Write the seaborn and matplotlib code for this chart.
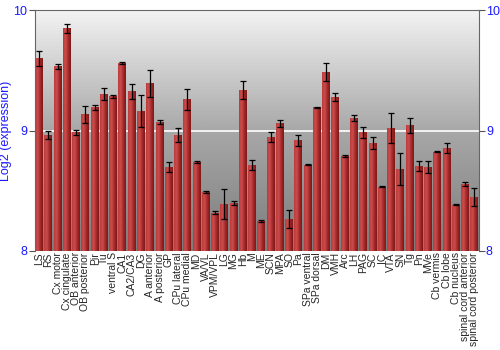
import numpy as np
import pandas as pd
import matplotlib
matplotlib.use("Agg")
import matplotlib.pyplot as plt
import seaborn as sns
from matplotlib.colors import LinearSegmentedColormap

regions = ["LS", "RS", "Cx motor", "Cx cingulate", "OB anterior", "OB posterior", "Pir", "Tu",
           "ventral S", "CA1", "CA2/CA3", "DG", "A anterior", "A posterior", "GP", "CPu lateral",
           "CPu medial", "MD", "VA/VL", "VPM/VPL", "LG", "MG", "Hb", "M", "ME", "SCN", "MPA", "SO",
           "Pa", "SPa ventral", "SPa dorsal", "DM", "VMH", "Arc", "LH", "PAG", "SC", "IC", "VTA",
           "SN", "Tg", "Pn", "MVe", "Cb vermis", "Cb lobe", "Cb nucleus", "spinal cord anterior",
           "spinal cord posterior"]
expression = [9.60, 8.963, 9.533, 9.848, 8.985, 9.134, 9.192, 9.303,
              9.284, 9.56, 9.328, 9.165, 9.394, 9.071, 8.697, 8.965,
              9.261, 8.739, 8.49, 8.318, 8.39, 8.396, 9.336, 8.714, 8.249, 8.949, 9.06, 8.268,
              8.921, 8.716, 9.192, 9.485, 9.278, 8.788, 9.104, 8.985, 8.894, 8.534, 9.018,
              8.68, 9.043, 8.705, 8.697, 8.822, 8.855, 8.384, 8.553,
              8.451]
error = [0.064, 0.036, 0.02, 0.035, 0.018, 0.073, 0.02, 0.05,
         0.011, 0.006, 0.062, 0.133, 0.112, 0.017, 0.043, 0.058,
         0.087, 0.005, 0.011, 0.012, 0.127, 0.017, 0.072, 0.044, 0.008, 0.041, 0.029, 0.075,
         0.046, 0.005, 0.007, 0.077, 0.03, 0.011, 0.028, 0.047, 0.051, 0.007, 0.124,
         0.133, 0.065, 0.043, 0.051, 0.004, 0.039, 0.004, 0.017,
         0.075]
y_ticks = [8, 9, 10]

df = pd.DataFrame({"region": regions, "expression": expression, "error": error})

sns.set_style("white")
plt.rcParams['font.family'] = ['Liberation Sans', 'DejaVu Sans']

fig = plt.figure(figsize=(5, 3.5), dpi=100)
ax = fig.add_axes([0.069, 0.283, 0.889, 0.688])

# bars from baseline 8
sns.barplot(x=df["region"], y=df["expression"] - 8, color="#a82828", width=0.86,
            errorbar=None, ax=ax, zorder=2, bottom=8, edgecolor="none")

xlim = (-0.5, len(regions) - 0.5)
ax.set_xlim(*xlim)
ax.set_ylim(8, 10)

# background gradient: dark at bottom, light at top
grad = np.linspace(0, 1, 256).reshape(-1, 1)
bg_cmap = LinearSegmentedColormap.from_list("bg", ["#7c7c7c", "#a8a8a8", "#f3f3f3"])
ax.imshow(grad, cmap=bg_cmap, aspect="auto", extent=[xlim[0], xlim[1], 8, 10],
          origin="lower", zorder=0, interpolation="bicubic")

# glossy bar gradient
bar_cmap = LinearSegmentedColormap.from_list("bar", ["#bc3c3c", "#cc4c4c", "#a42a2a", "#7c1818"])
hgrad = np.linspace(0, 1, 64).reshape(1, -1)
for patch in list(ax.patches):
    x0, y0 = patch.get_x(), patch.get_y()
    w, h = patch.get_width(), patch.get_height()
    im = ax.imshow(hgrad, cmap=bar_cmap, aspect="auto",
                   extent=[x0, x0 + w, y0, y0 + h], zorder=2.5, interpolation="bilinear")
    im.set_clip_path(patch)

ax.axhline(9, color="white", lw=1.2, zorder=1.5)

ax.errorbar(np.arange(len(regions)), df["expression"], yerr=df["error"], fmt="none",
            ecolor="black", elinewidth=0.9, capsize=2, capthick=0.9, zorder=4)

ax.set_xlim(*xlim)
ax.set_ylim(8, 10)
ax.set_yticks(y_ticks)
ax.set_yticklabels([str(t) for t in y_ticks])
ax.tick_params(axis="y", labelcolor="#1a1aff", labelsize=9, length=4, width=0.8, pad=1,
               color="#555555", left=True, right=True, labelright=True, direction="out")
ax.tick_params(axis="x", labelsize=7.5, length=0, pad=1, labelrotation=90)
ax.set_xlabel("")
ax.set_ylabel("Log2 (expression)", color="#1a1aff", fontsize=9, labelpad=1)

for s in ["left", "right", "top", "bottom"]:
    ax.spines[s].set_visible(True)
    ax.spines[s].set_color("#666666")
    ax.spines[s].set_linewidth(0.8)
ax.spines["bottom"].set_visible(False)

fig.savefig("out.png", dpi=100)
